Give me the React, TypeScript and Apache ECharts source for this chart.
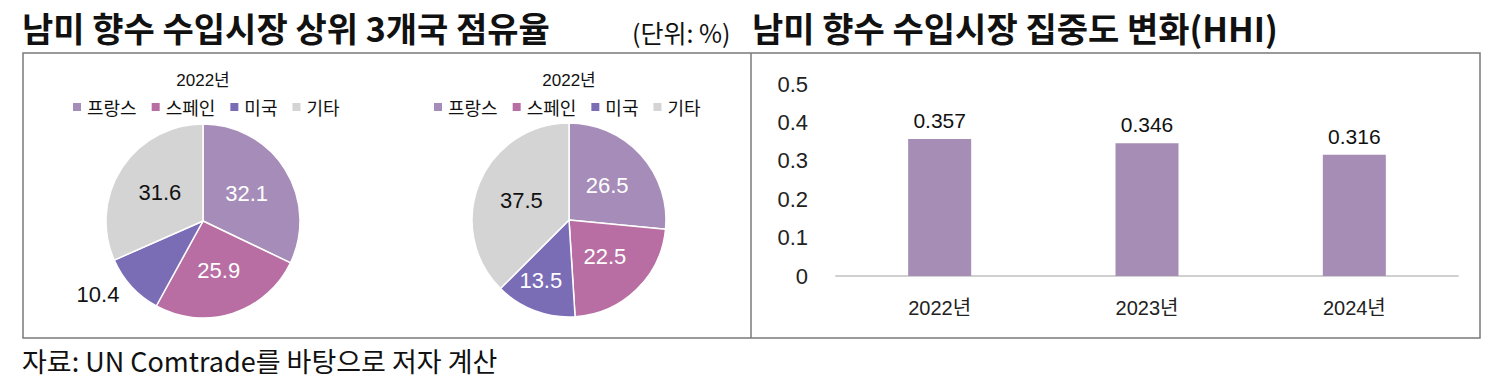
import React, { useEffect, useRef } from "react";
import * as echarts from "echarts";

const countries = ["프랑스", "스페인", "미국", "기타"];
const pieColors = ["#a68cb8", "#b86ea2", "#7a6db6", "#d4d4d4"];
const pie1Values = [32.1, 25.9, 10.4, 31.6];
const pie2Values = [26.5, 22.5, 13.5, 37.5];
const pieTitles = ["2022년", "2022년"];

const years = ["2022년", "2023년", "2024년"];
const hhiValues = [0.357, 0.346, 0.316];

const titleLeft = "남미 향수 수입시장 상위 3개국 점유율";
const unitText = "(단위: %)";
const titleRight = "남미 향수 수입시장 집중도 변화(HHI)";
const sourceText = "자료: UN Comtrade를 바탕으로 저자 계산";

const KR = "'Noto Sans CJK KR', 'Noto Sans', sans-serif";
const NUM = "'Liberation Sans', Arial, 'Noto Sans CJK KR', sans-serif";

function pieData(values: number[], darkIdx: number[], offsets: Record<number, number[]>) {
  return values.map((v, i) => ({
    name: countries[i],
    value: v,
    itemStyle: { color: pieColors[i] },
    label: {
      color: darkIdx.includes(i) ? "#111" : "#fff",
      offset: offsets[i] || [0, 0],
    },
  }));
}

export default function App() {
  const ref = useRef<HTMLDivElement>(null);
  useEffect(() => {
    if (!ref.current) return;
    const chart = echarts.init(ref.current, undefined, { renderer: "svg" });
    const pieCommon = {
      type: "pie",
      radius: 97,
      startAngle: 90,
      clockwise: true,
      avoidLabelOverlap: false,
      label: {
        show: true,
        position: "inside",
        fontFamily: NUM,
        fontSize: 22,
        formatter: (p: any) => p.value.toFixed(1),
      },
      labelLine: { show: false },
      itemStyle: { borderColor: "#fff", borderWidth: 1.5 },
      emphasis: { disabled: true },
    };
    const legendCommon = {
      data: countries,
      top: 93,
      icon: "rect",
      itemWidth: 10,
      itemHeight: 10,
      itemGap: 13,
      textStyle: { fontFamily: KR, fontSize: 18, color: "#111" },
      selectedMode: false,
    };
    chart.setOption({
      animation: false,
      backgroundColor: "#fff",
      legend: [
        { ...legendCommon, left: 66 },
        { ...legendCommon, left: 427 },
      ],
      grid: { left: 836, right: 45, top: 84, bottom: 115 },
      xAxis: {
        type: "category",
        data: years,
        axisLine: { lineStyle: { color: "#d0d0d0", width: 2 } },
        axisTick: { show: false },
        axisLabel: { fontFamily: NUM, fontSize: 20, color: "#222", margin: 22 },
      },
      yAxis: {
        type: "value",
        min: 0,
        max: 0.5,
        interval: 0.1,
        splitLine: { show: false },
        axisLine: { show: false },
        axisTick: { show: false },
        axisLabel: { fontFamily: NUM, fontSize: 22, color: "#222", margin: 28 },
      },
      series: [
        {
          ...pieCommon,
          center: [203, 221],
          data: pieData(pie1Values, [2, 3], { 2: [-67, 39] }),
        },
        {
          ...pieCommon,
          center: [569, 220],
          data: pieData(pie2Values, [3], { 2: [-10, 12] }),
        },
        {
          type: "bar",
          data: hhiValues,
          barWidth: 63,
          itemStyle: { color: "#a68db5" },
          label: {
            show: true,
            position: "top",
            distance: 8,
            fontFamily: NUM,
            fontSize: 21,
            color: "#111",
            formatter: (p: any) => p.value.toFixed(3),
          },
          emphasis: { disabled: true },
        },
      ],
      graphic: [
        {
          type: "text",
          left: 22,
          top: 10,
          style: { text: titleLeft, font: `bold 34px ${KR}`, fill: "#111" },
        },
        {
          type: "text",
          left: 632,
          top: 19,
          style: { text: unitText, font: `25px ${KR}`, fill: "#111" },
        },
        {
          type: "text",
          left: 752,
          top: 10,
          style: { text: titleRight, font: `bold 34px ${KR}`, fill: "#111" },
        },
        {
          type: "text",
          x: 203,
          y: 80,
          style: { text: pieTitles[0], font: `17px ${NUM}`, fill: "#111", align: "center", verticalAlign: "middle" },
        },
        {
          type: "text",
          x: 569,
          y: 80,
          style: { text: pieTitles[1], font: `17px ${NUM}`, fill: "#111", align: "center", verticalAlign: "middle" },
        },
        {
          type: "rect",
          shape: { x: 23, y: 53, width: 1457, height: 285 },
          style: { fill: "none", stroke: "#7a7a7a", lineWidth: 1.5 },
          silent: true,
        },
        {
          type: "line",
          shape: { x1: 751, y1: 53, x2: 751, y2: 338 },
          style: { stroke: "#7a7a7a", lineWidth: 1.5 },
          silent: true,
        },
        {
          type: "text",
          left: 22,
          top: 347,
          style: { text: sourceText, font: `27px ${KR}`, fill: "#111" },
        },
      ],
    });
    return () => chart.dispose();
  }, []);
  return (
    <div
      ref={ref}
      style={{ position: "absolute", left: 0, top: 0, width: 1503, height: 391 }}
    />
  );
}
